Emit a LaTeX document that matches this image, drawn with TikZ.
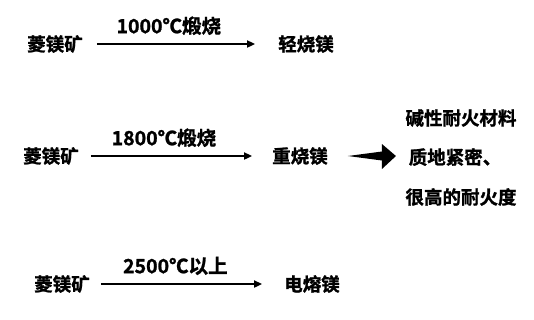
\documentclass[tikz,border=0pt]{standalone}
\usepackage{fontspec}
\setmainfont{Noto Sans CJK SC Bold}[FakeBold=1.2]
\usetikzlibrary{arrows.meta}
\tikzset{
  word/.style={inner sep=0pt, font=\fontsize{18.5}{20}\selectfont},
  cond/.style={inner sep=0pt, font=\fontsize{19.5}{21}\selectfont},
  flow/.style={line width=2pt, -{Triangle[length=8pt,width=7pt]}},
}
\begin{document}
\begin{tikzpicture}[x=1pt,y=-1pt]
\useasboundingbox[fill=white] (0,0) rectangle (534,319);
% row 1
\node[word] (a1) at (55,44) {菱镁矿};
\node[word] (b1) at (306,44) {轻烧镁};
\draw[flow, shorten <=14pt, shorten >=23pt] (a1.east) -- (b1.west)
  node[cond, pos=0.44, above=8pt] (l1) {1000℃煅烧};
% row 2
\node[word] (a2) at (51,156) {菱镁矿};
\node[word] (b2) at (300,156) {重烧镁};
\draw[flow, shorten <=12pt, shorten >=20pt] (a2.east) -- (b2.west)
  node[cond, pos=0.44, above=8pt] (l2) {1800℃煅烧};
% block arrow
\coordinate (bt) at ([xshift=20pt]b2.east);
\fill (bt) -- ++(34,-4.5) -- ++(0,-7.5) -- ++(14,12) -- ++(-14,13) -- ++(0,-8.5) -- cycle;
% right texts
\node[word] (t1) at (461,118) {碱性耐火材料};
\node[word] (t2) at (455,157) {质地紧密、};
\node[word] (t3) at (461,197) {很高的耐火度};
% row 3
\node[word] (a3) at (62,284) {菱镁矿};
\node[word] (b3) at (312,284) {电熔镁};
\draw[flow, shorten <=11pt, shorten >=22pt] (a3.east) -- (b3.west)
  node[cond, pos=0.44, above=8pt] (l3) {2500℃以上};
\end{tikzpicture}
\end{document}
